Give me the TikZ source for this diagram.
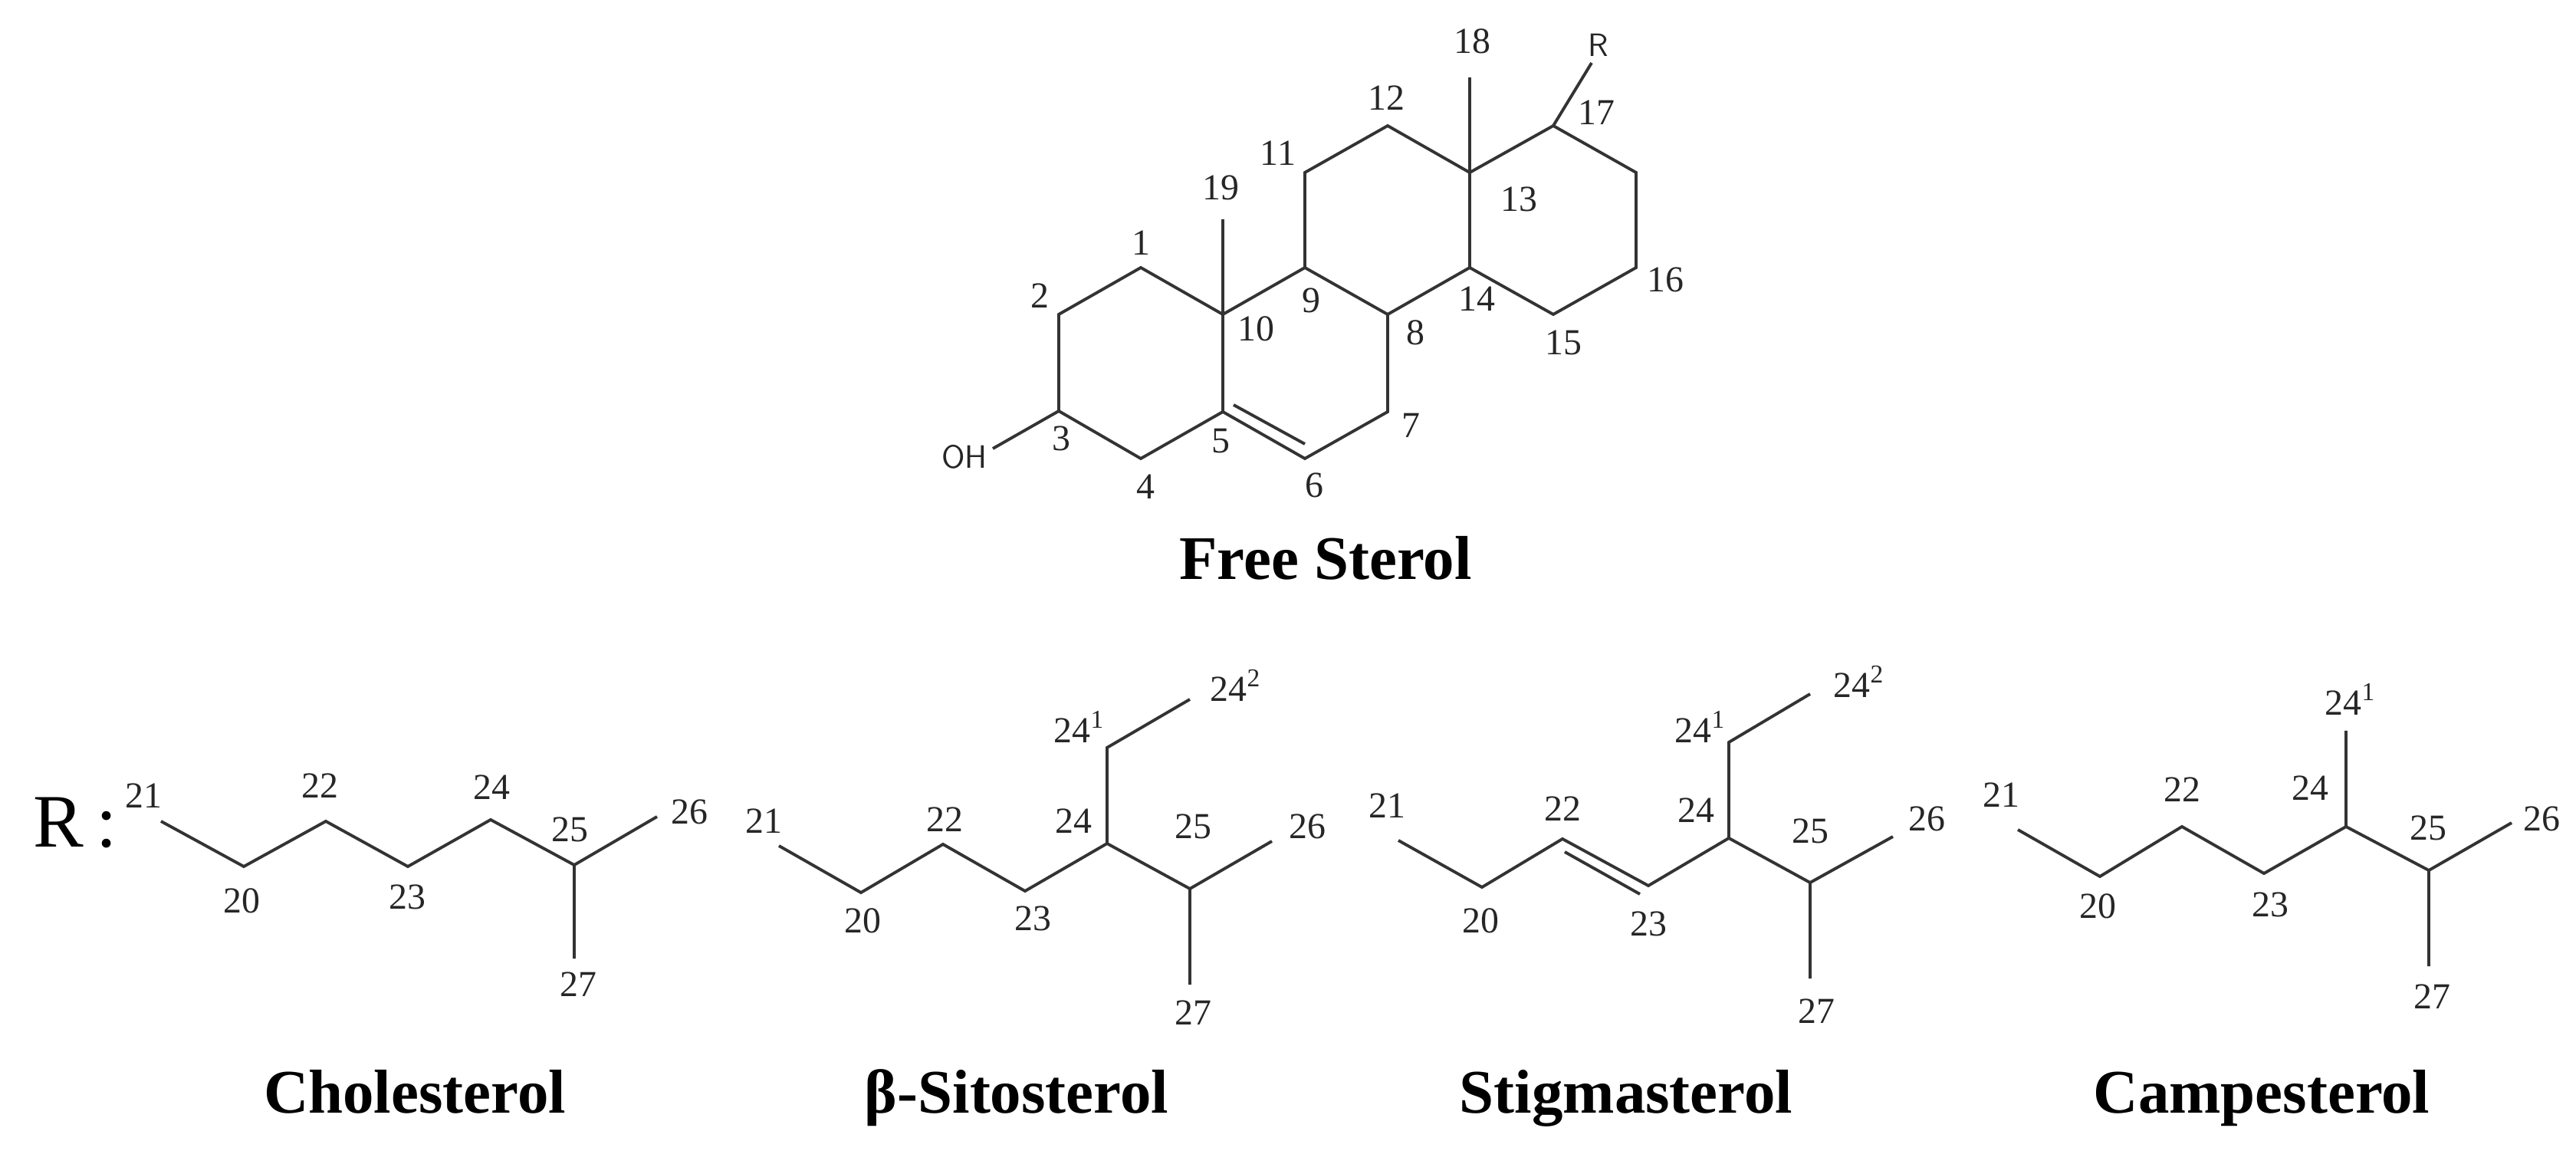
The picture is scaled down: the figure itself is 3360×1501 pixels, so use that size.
\documentclass[tikz,border=0pt]{standalone}
\usepackage{fontspec}
\setmainfont{Liberation Serif}
\tikzset{
  bond/.style={draw=black!80, line width=1.1pt, line join=miter},
  lab/.style={inner sep=0pt, text=black!85, font=\fontsize{13.6}{14}\selectfont},
  title/.style={inner sep=0pt, anchor=base, font=\fontsize{23}{25}\selectfont\bfseries}
}
\begin{document}
\begin{tikzpicture}[x=0.01cm,y=-0.01cm]
\useasboundingbox (0,0) rectangle (3360,1501);
% ---------- steroid skeleton ----------
\coordinate (c1) at (1488,349);
\coordinate (c2) at (1381,410);
\coordinate (c3) at (1381,536);
\coordinate (c4) at (1488,598);
\coordinate (c5) at (1595,537);
\coordinate (c10) at (1595,410);
\coordinate (c6) at (1702,598);
\coordinate (c7) at (1810,537);
\coordinate (c8) at (1810,410);
\coordinate (c9) at (1702,349);
\coordinate (c11) at (1702,225);
\coordinate (c12) at (1810,164);
\coordinate (c13) at (1917,225);
\coordinate (c14) at (1917,349);
\coordinate (c17) at (2026,164);
\coordinate (cx) at (2134,225);
\coordinate (c16) at (2134,349);
\coordinate (c15) at (2026,410);
\coordinate (m18) at (1917,101);
\coordinate (m19) at (1595,286);
\coordinate (rr) at (2076,82);
\coordinate (oh) at (1295,585);
\coordinate (d1) at (1609,528);
\coordinate (d2) at (1702,579);
\draw[bond] (c3)--(c2)--(c1)--(c10)--(c5)--(c4)--(c3);
\draw[bond] (c5)--(c6)--(c7)--(c8)--(c9)--(c10);
\draw[bond] (c9)--(c11)--(c12)--(c13)--(c14)--(c8);
\draw[bond] (c13)--(c17)--(cx)--(c16)--(c15)--(c14);
\draw[bond] (c13)--(m18) (c10)--(m19) (c17)--(rr) (c3)--(oh) (d1)--(d2);
\node[lab] (l1) at (1488,317) {1};
\node[lab] (l2) at (1356,386) {2};
\node[lab] (l3) at (1384,572) {3};
\node[lab] (l4) at (1494,635) {4};
\node[lab] (l5) at (1592,575) {5};
\node[lab] (l6) at (1714,633) {6};
\node[lab] (l7) at (1840,555) {7};
\node[lab] (l8) at (1846,434) {8};
\node[lab] (l9) at (1710,392) {9};
\node[lab] (l10) at (1638,429) {10};
\node[lab] (l11) at (1667,200) {11};
\node[lab] (l12) at (1808,128) {12};
\node[lab] (l13) at (1981,260) {13};
\node[lab] (l14) at (1926,390) {14};
\node[lab] (l15) at (2039,447) {15};
\node[lab] (l16) at (2172,365) {16};
\node[lab] (l17) at (2082,147) {17};
\node[lab] (l18) at (1920,54) {18};
\node[lab] (l19) at (1592,245) {19};
\node[lab, font=\fontsize{12}{13}\selectfont\sffamily] (lR) at (2085,59) {R};
\node[lab, font=\fontsize{12}{13}\selectfont\sffamily] (lOH) at (1258,596) {OH};
\node[title] (tfree) at (1729,756) {Free Sterol};
% ---------- R: ----------
\node[inner sep=0pt, font=\fontsize{28}{30}\selectfont] (Rlab) at (98,1073) {R\,:};
% ---------- Cholesterol ----------
\coordinate (a21) at (210,1071);
\coordinate (a20) at (318,1130);
\coordinate (a22) at (425,1071);
\coordinate (a23) at (532,1130);
\coordinate (a24) at (640,1069);
\coordinate (a25) at (749,1128);
\coordinate (a26) at (857,1065);
\coordinate (a27) at (749,1250);
\draw[bond] (a21)--(a20)--(a22)--(a23)--(a24)--(a25)--(a26) (a25)--(a27);
\node[lab] (a21l) at (187,1038) {21};
\node[lab] (a22l) at (417,1025) {22};
\node[lab] (a24l) at (641,1027) {24};
\node[lab] (a25l) at (743,1082) {25};
\node[lab] (a26l) at (899,1059) {26};
\node[lab] (a20l) at (315,1175) {20};
\node[lab] (a23l) at (531,1170) {23};
\node[lab] (a27l) at (754,1284) {27};
\node[title] (tchol) at (541,1451) {Cholesterol};
% ---------- beta-Sitosterol ----------
\coordinate (b21) at (1016,1103);
\coordinate (b20) at (1123,1164);
\coordinate (b22) at (1230,1101);
\coordinate (b23) at (1337,1162);
\coordinate (b24) at (1444,1100);
\coordinate (b241) at (1444,975);
\coordinate (b242) at (1552,912);
\coordinate (b25) at (1552,1159);
\coordinate (b26) at (1659,1097);
\coordinate (b27) at (1552,1284);
\draw[bond] (b21)--(b20)--(b22)--(b23)--(b24)--(b25)--(b26) (b25)--(b27) (b24)--(b241)--(b242);
\node[lab] (b21l) at (996,1071) {21};
\node[lab] (b22l) at (1232,1069) {22};
\node[lab] (b24l) at (1400,1071) {24};
\node[lab] (b241l) at (1408,948) {24\textsuperscript{1}};
\node[lab] (b242l) at (1612,894) {24\textsuperscript{2}};
\node[lab] (b25l) at (1556,1078) {25};
\node[lab] (b26l) at (1705,1078) {26};
\node[lab] (b20l) at (1125,1201) {20};
\node[lab] (b23l) at (1347,1198) {23};
\node[lab] (b27l) at (1556,1321) {27};
\node[title] (tsito) at (1326,1451) {β-Sitosterol};
% ---------- Stigmasterol ----------
\coordinate (s21) at (1824,1096);
\coordinate (s20) at (1933,1157);
\coordinate (s22) at (2038,1094);
\coordinate (s23) at (2150,1155);
\coordinate (s24) at (2255,1093);
\coordinate (s241) at (2255,968);
\coordinate (s242) at (2361,905);
\coordinate (s25) at (2361,1151);
\coordinate (s26) at (2469,1091);
\coordinate (s27) at (2361,1276);
\coordinate (sd1) at (2041,1111);
\coordinate (sd2) at (2139,1166);
\draw[bond] (s21)--(s20)--(s22)--(s23)--(s24)--(s25)--(s26) (s25)--(s27) (s24)--(s241)--(s242) (sd1)--(sd2);
\node[lab] (s21l) at (1809,1051) {21};
\node[lab] (s22l) at (2038,1055) {22};
\node[lab] (s24l) at (2212,1057) {24};
\node[lab] (s241l) at (2218,948) {24\textsuperscript{1}};
\node[lab] (s242l) at (2425,889) {24\textsuperscript{2}};
\node[lab] (s25l) at (2361,1084) {25};
\node[lab] (s26l) at (2513,1068) {26};
\node[lab] (s20l) at (1931,1201) {20};
\node[lab] (s23l) at (2150,1205) {23};
\node[lab] (s27l) at (2369,1319) {27};
\node[title] (tstig) at (2121,1451) {Stigmasterol};
% ---------- Campesterol ----------
\coordinate (p21) at (2632,1082);
\coordinate (p20) at (2739,1143);
\coordinate (p22) at (2846,1078);
\coordinate (p23) at (2953,1139);
\coordinate (p24) at (3060,1078);
\coordinate (p241) at (3060,953);
\coordinate (p25) at (3168,1135);
\coordinate (p26) at (3276,1073);
\coordinate (p27) at (3168,1260);
\draw[bond] (p21)--(p20)--(p22)--(p23)--(p24)--(p25)--(p26) (p25)--(p27) (p24)--(p241);
\node[lab] (p21l) at (2610,1037) {21};
\node[lab] (p22l) at (2846,1030) {22};
\node[lab] (p24l) at (3013,1028) {24};
\node[lab] (p241l) at (3066,912) {24\textsuperscript{1}};
\node[lab] (p25l) at (3167,1080) {25};
\node[lab] (p26l) at (3315,1068) {26};
\node[lab] (p20l) at (2736,1182) {20};
\node[lab] (p23l) at (2961,1180) {23};
\node[lab] (p27l) at (3172,1300) {27};
\node[title] (tcamp) at (2950,1451) {Campesterol};
\end{tikzpicture}
\end{document}
